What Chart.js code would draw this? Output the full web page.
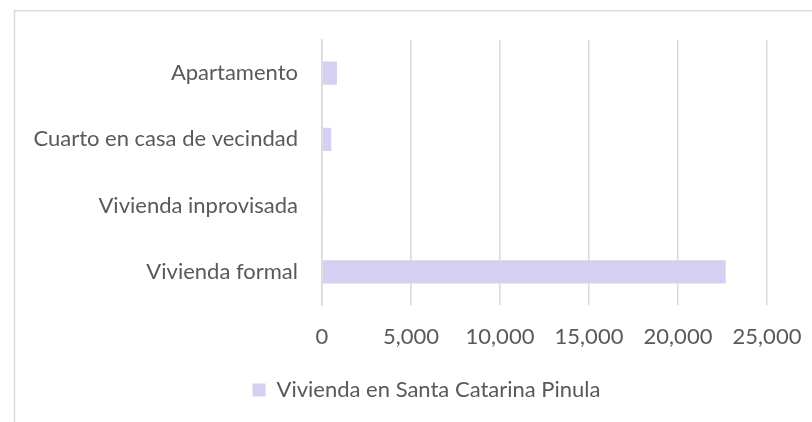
<!DOCTYPE html>
<html>
<head>
<meta charset="utf-8">
<script src="https://cdn.jsdelivr.net/npm/chart.js@4"></script>
<style>
  html, body { margin: 0; padding: 0; background: #ffffff; }
  #wrap { position: relative; width: 812px; height: 422px; }
</style>
</head>
<body>
<div id="wrap"><canvas id="c" width="812" height="422"></canvas></div>
<script>
const categories = ["Apartamento", "Cuarto en casa de vecindad", "Vivienda inprovisada", "Vivienda formal"];
const seriesName = "Vivienda en Santa Catarina Pinula";
const values = [840, 520, 30, 22680];
const xTicks = [0, 5000, 10000, 15000, 20000, 25000];

const FONT = "Lato, 'Open Sans', sans-serif";
const TEXT = "#595959";
const GRID = "#d9d9d9";
const BAR = "#d5cff2";

const frame = {
  id: 'frame',
  afterLayout(chart) {
    if (chart.legend) { chart.legend.left = 86; chart.legend.right = 767; }
  },
  afterDraw(chart) {
    const ctx = chart.ctx;
    ctx.save();
    ctx.strokeStyle = GRID;
    ctx.lineWidth = 1.5;
    ctx.beginPath();
    ctx.moveTo(14.5, 422);
    ctx.lineTo(14.5, 10.75);
    ctx.lineTo(812, 10.75);
    ctx.stroke();
    ctx.restore();
  }
};

new Chart(document.getElementById('c'), {
  type: 'bar',
  data: {
    labels: categories,
    datasets: [{
      label: seriesName,
      data: values,
      backgroundColor: BAR,
      borderWidth: 0,
      barPercentage: 0.7,
      categoryPercentage: 0.5
    }]
  },
  options: {
    indexAxis: 'y',
    responsive: false,
    animation: false,
    devicePixelRatio: 1,
    layout: { padding: { top: 40, right: 45, bottom: 11, left: 0 } },
    plugins: {
      legend: {
        position: 'bottom',
        labels: {
          boxWidth: 13, boxHeight: 13, padding: 10,
          color: TEXT,
          font: { family: FONT, size: 22 }
        }
      },
      tooltip: { enabled: false }
    },
    scales: {
      x: {
        min: 0, max: 25000,
        afterBuildTicks(scale) { scale.ticks = xTicks.map(v => ({ value: v })); },
        grid: { color: GRID, lineWidth: 1.5, drawTicks: false },
        border: { display: false },
        ticks: {
          padding: 19,
          color: TEXT,
          font: { family: FONT, size: 22 },
          callback: (v) => v.toLocaleString('en-US')
        },
        afterFit(scale) { scale.height = 64; scale.paddingRight = 0; scale.paddingLeft = 0; }
      },
      y: {
        grid: { display: false, drawTicks: false },
        border: { display: true, color: GRID, width: 1.5 },
        ticks: {
          padding: 24,
          color: TEXT,
          font: { family: FONT, size: 22 }
        },
        afterFit(scale) { scale.width = 322; }
      }
    }
  },
  plugins: [frame]
});
</script>
</body>
</html>
